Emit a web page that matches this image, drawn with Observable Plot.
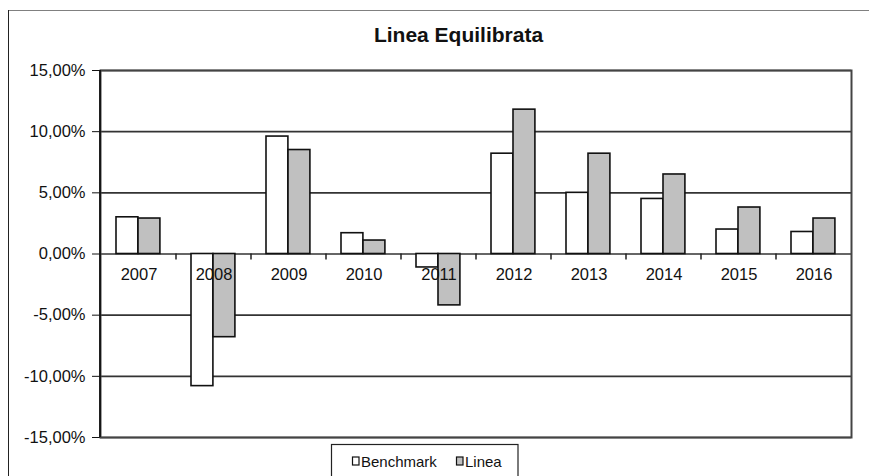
<!DOCTYPE html>
<html>
<head>
<meta charset="utf-8">
<script src="https://cdn.jsdelivr.net/npm/d3@7"></script>
<script src="https://cdn.jsdelivr.net/npm/@observablehq/plot@0.6"></script>
<style>
  html, body { margin: 0; padding: 0; background: #fff; }
  #chart { width: 869px; height: 476px; overflow: hidden; }
</style>
</head>
<body>
<div id="chart"></div>
<script>
// ---- data ----
const years = ["2007","2008","2009","2010","2011","2012","2013","2014","2015","2016"];
const benchmark = [0.030, -0.108, 0.096, 0.017, -0.011, 0.082, 0.050, 0.045, 0.020, 0.018];
const linea     = [0.029, -0.068, 0.085, 0.011, -0.042, 0.118, 0.082, 0.065, 0.038, 0.029];
const seriesNames = ["Benchmark", "Linea"];
const seriesFill = ["#ffffff", "#c0c0c0"];
const yTicks = [-0.15, -0.10, -0.05, 0, 0.05, 0.10, 0.15];
const titleText = "Linea Equilibrata";

const rows = years.map((y, i) => ({year: y, benchmark: benchmark[i], linea: linea[i]}));

const W = 869, H = 476;
const mL = 100, mR = 18, mT = 70, mB = 39;
const bw = (W - mL - mR) / years.length;
const off = 15, barW = 22;

const fmt = d => (d * 100).toFixed(2).replace(".", ",") + "%";
const FONT = "'Liberation Sans', Arial, sans-serif";

function decorations(index, scales, values, dims, context) {
  const g = d3.create("svg:g").attr("text-anchor", "start");
  // outer chart border
  g.append("line").attr("x1", 8).attr("x2", W).attr("y1", 10.5).attr("y2", 10.5)
    .attr("stroke", "#808080").attr("stroke-width", 1);
  g.append("line").attr("x1", 8.5).attr("x2", 8.5).attr("y1", 10).attr("y2", H)
    .attr("stroke", "#222").attr("stroke-width", 1);
  // value axis line
  g.append("line").attr("x1", dims.marginLeft).attr("x2", dims.marginLeft)
    .attr("y1", dims.marginTop).attr("y2", dims.height - dims.marginBottom)
    .attr("stroke", "#111").attr("stroke-width", 1.8);
  // category boundary ticks
  const y0 = scales.y(0);
  years.slice(1).forEach(yr => {
    const px = scales.x(yr);
    g.append("line").attr("x1", px).attr("x2", px).attr("y1", y0).attr("y2", y0 + 6)
      .attr("stroke", "#222").attr("stroke-width", 1.5);
  });
  // title
  g.append("text").attr("x", 458.5).attr("y", 42).attr("text-anchor", "middle")
    .attr("font-family", FONT).attr("font-weight", "bold").attr("font-size", 21)
    .attr("fill", "#111").text(titleText);
  // legend
  const lx = 331.5, ly = 444.5;
  g.append("rect").attr("x", lx).attr("y", ly).attr("width", 186.5).attr("height", 40)
    .attr("fill", "#fff").attr("stroke", "#222").attr("stroke-width", 1.2);
  const itemX = [352.5, 456.5];
  seriesNames.forEach((name, i) => {
    g.append("rect").attr("x", itemX[i]).attr("y", 457).attr("width", 6.5).attr("height", 8)
      .attr("fill", seriesFill[i]).attr("stroke", "#111").attr("stroke-width", 1.2);
    g.append("text").attr("x", itemX[i] + 8.5).attr("y", 466.5).attr("text-anchor", "start")
      .attr("font-family", FONT).attr("font-size", 15).attr("fill", "#111").text(name);
  });
  return g.node();
}

const chart = Plot.plot({
  width: W, height: H,
  marginLeft: mL, marginRight: mR, marginTop: mT, marginBottom: mB,
  style: {fontFamily: FONT, fontSize: "16.5px", color: "#111", background: "#fff"},
  x: {domain: years, padding: 0, axis: null},
  y: {domain: [-0.15, 0.15], ticks: yTicks, tickFormat: fmt, tickSize: 8, tickPadding: 7, label: null},
  marks: [
    Plot.ruleY(yTicks, {stroke: "#333", strokeWidth: 1.6}),
    Plot.barY(rows, {x: "year", y: "benchmark", fill: seriesFill[0], stroke: "#111", strokeWidth: 1.6,
      insetLeft: off, insetRight: bw - off - barW}),
    Plot.barY(rows, {x: "year", y: "linea", fill: seriesFill[1], stroke: "#111", strokeWidth: 1.6,
      insetLeft: off + barW, insetRight: bw - off - 2 * barW}),
    Plot.text(years, {x: d => d, y: d => 0, dy: 21, fontSize: 16.5, fill: "#111"}),
    Plot.frame({stroke: "#444", strokeWidth: 2}),
    decorations
  ]
});
document.getElementById("chart").appendChild(chart);
</script>
</body>
</html>
